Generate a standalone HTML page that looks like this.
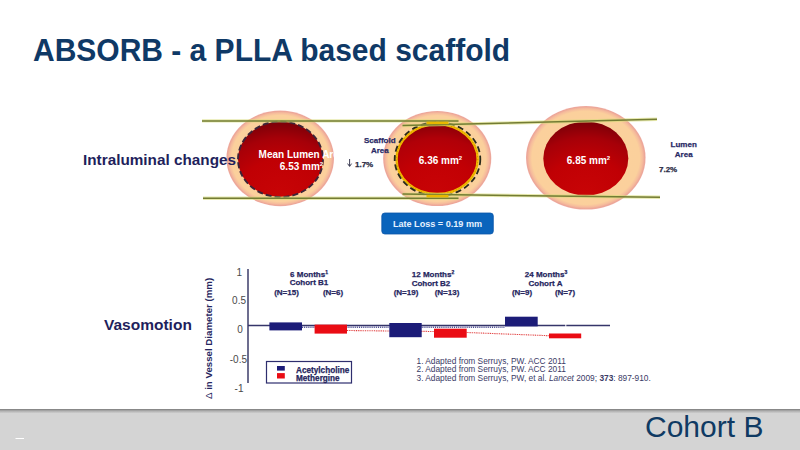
<!DOCTYPE html>
<html><head><meta charset="utf-8">
<style>
html,body{margin:0;padding:0;background:#fff;}
body{width:800px;height:450px;overflow:hidden;position:relative;font-family:"Liberation Sans",sans-serif;}
svg{position:absolute;left:0;top:0;}
</style></head>
<body>
<svg width="800" height="450" viewBox="0 0 800 450" font-family="Liberation Sans, sans-serif">
<defs>
<radialGradient id="rg" cx="0.5" cy="1" r="1">
<stop offset="0" stop-color="#c80406"/>
<stop offset="0.5" stop-color="#c00004"/>
<stop offset="0.78" stop-color="#a60008"/>
<stop offset="1" stop-color="#7a0008"/>
</radialGradient>
<radialGradient id="rg2" cx="0.5" cy="1" r="1">
<stop offset="0" stop-color="#c80406"/>
<stop offset="0.5" stop-color="#c20004"/>
<stop offset="0.8" stop-color="#b00008"/>
<stop offset="1" stop-color="#8a0008"/>
</radialGradient>
<radialGradient id="pk" cx="0.5" cy="0.5" r="0.5">
<stop offset="0" stop-color="#fbd29c"/>
<stop offset="0.9" stop-color="#fbd09c"/>
<stop offset="0.95" stop-color="#f6bc9c"/>
<stop offset="0.985" stop-color="#eca698"/>
<stop offset="1" stop-color="#f0b0a8"/>
</radialGradient>
<linearGradient id="fsh" x1="0" y1="0" x2="0" y2="1">
<stop offset="0" stop-color="#a8a8a8"/>
<stop offset="1" stop-color="#d4d4d4"/>
</linearGradient>
</defs>
<!-- title -->
<text x="33" y="61" font-size="30" font-weight="bold" fill="#0f3966" transform="translate(0,61) scale(1,1.05) translate(0,-61)">ABSORB - a PLLA based scaffold</text>

<!-- circles -->
<ellipse cx="280.2" cy="158.4" rx="53.8" ry="47.8" fill="url(#pk)"/>
<ellipse cx="437.2" cy="158.5" rx="54.1" ry="47.6" fill="url(#pk)"/>
<ellipse cx="585.8" cy="157.8" rx="59.8" ry="51.8" fill="url(#pk)"/>

<!-- left inner -->
<ellipse cx="280.5" cy="159.3" rx="42.5" ry="37.8" fill="url(#rg)" stroke="#3c2438" stroke-width="1.9" stroke-dasharray="6 3"/>
<!-- middle -->
<ellipse cx="437.1" cy="159.2" rx="40.6" ry="34.9" fill="url(#rg2)" stroke="#f0ba00" stroke-width="2.5"/>
<ellipse cx="437.1" cy="159.2" rx="40.6" ry="34.9" fill="none" stroke="#c07000" stroke-width="1" stroke-dasharray="1 2" opacity="0.6"/>
<ellipse cx="437.5" cy="159.2" rx="42.8" ry="37" fill="none" stroke="#2a2a1a" stroke-width="1.8" stroke-dasharray="6 3.5"/>
<!-- right inner -->
<ellipse cx="585.8" cy="158.5" rx="42.5" ry="37.1" fill="url(#rg)"/>

<!-- lines -->
<g stroke="#d8dc78" stroke-width="3.4" fill="none" opacity="0.6">
<line x1="202" y1="120.9" x2="458.5" y2="120.9"/>
<line x1="203" y1="198.2" x2="458.5" y2="198.2"/>
<line x1="402.5" y1="125.6" x2="657" y2="119.2"/>
<line x1="402.5" y1="194.1" x2="660" y2="197.3"/>
</g>
<g stroke="#737c34" stroke-width="1.5" fill="none">
<line x1="202" y1="120.9" x2="458.5" y2="120.9"/>
<line x1="203" y1="198.2" x2="458.5" y2="198.2"/>
<line x1="402.5" y1="125.6" x2="657" y2="119.2"/>
<line x1="402.5" y1="194.1" x2="660" y2="197.3"/>
</g>
<rect x="426.5" y="121.6" width="22" height="2.6" fill="#e8b800"/>
<rect x="426.5" y="194.8" width="22" height="2.6" fill="#e8b800"/>

<!-- circle texts -->
<g fill="#fff" font-weight="bold" font-size="10" text-anchor="middle">
<text x="301.5" y="158.2">Mean Lumen Area</text>
<text x="301.5" y="170.2">6.53 mm<tspan font-size="6" dy="-4">2</tspan></text>
<text x="440.5" y="163.5">6.36 mm<tspan font-size="6" dy="-4">2</tspan></text>
<text x="588.5" y="163.9">6.85 mm<tspan font-size="6" dy="-4">2</tspan></text>
</g>

<text x="83" y="165" font-size="15.3" font-weight="bold" fill="#1f1f5c">Intraluminal changes</text>

<g font-weight="bold" font-size="8" fill="#2a2a66" stroke="#2a2a66" stroke-width="0.25" text-anchor="middle">
<text x="379.8" y="142.8">Scaffold</text>
<text x="379.8" y="152.5">Area</text>
<text x="683.7" y="146.9">Lumen</text>
<text x="683.7" y="156.7">Area</text>
</g>
<g font-weight="bold" font-size="8" fill="#2a2a44" stroke="#2a2a44" stroke-width="0.25">
<text x="355" y="166.5">1.7%</text>
<text x="659" y="172">7.2%</text>
</g>
<path d="M349.6 159 V166.2 M347.6 163.6 L349.6 166.4 L351.6 163.6" stroke="#2a2a44" stroke-width="0.9" fill="none"/>

<!-- late loss -->
<rect x="381.8" y="213" width="111.5" height="21" rx="3" fill="#0a64bc" stroke="#0a56a8" stroke-width="0.8"/>
<text x="437.5" y="227" font-size="9.1" font-weight="bold" fill="#e6f2ff" text-anchor="middle">Late Loss = 0.19 mm</text>

<!-- vasomotion -->
<text x="104" y="330.2" font-size="15.5" font-weight="bold" fill="#1f1f5c">Vasomotion</text>

<!-- chart -->
<text transform="translate(211.5,399) rotate(-90)" font-size="9.7" font-weight="bold" fill="#25255e"><tspan font-weight="normal">Δ</tspan> in Vessel Diameter (mm)</text>
<g font-size="10" fill="#4a4a4a" text-anchor="end">
<text x="242" y="276">1</text>
<text x="246" y="304">0.5</text>
<text x="242.8" y="332.5">0</text>
<text x="247" y="362.5">-0.5</text>
<text x="243.5" y="392">-1</text>
</g>
<line x1="248" y1="269" x2="248" y2="383" stroke="#3c3c6a" stroke-width="1.5"/>
<line x1="248" y1="325.5" x2="610" y2="325.5" stroke="#35356a" stroke-width="1.3"/>
<rect x="565.3" y="324" width="1" height="3" fill="#fff"/>

<!-- dotted lines -->
<line x1="302" y1="327.2" x2="389" y2="327.2" stroke="#4a4a90" stroke-width="1.6" stroke-dasharray="1 0.9"/>
<line x1="421.7" y1="327.2" x2="505" y2="327.2" stroke="#4a4a90" stroke-width="1.6" stroke-dasharray="1 0.9"/>
<line x1="347" y1="330.5" x2="434" y2="331.5" stroke="#e03a3a" stroke-width="1.1" stroke-dasharray="1 0.8"/>
<line x1="466.7" y1="332.5" x2="549" y2="335.7" stroke="#e03a3a" stroke-width="1.1" stroke-dasharray="1 0.8"/>

<g fill="#1c1c78">
<rect x="269.4" y="322.4" width="32.6" height="8"/>
<rect x="389.3" y="323" width="32.4" height="14.2"/>
<rect x="505" y="316.7" width="32.7" height="9.7"/>
</g>
<g fill="#ea0c14">
<rect x="314.6" y="324.6" width="32.4" height="9"/>
<rect x="434" y="328.7" width="32.7" height="9"/>
<rect x="549" y="333.5" width="32.2" height="4.8"/>
</g>

<g font-size="8" font-weight="bold" fill="#25255e" stroke="#25255e" stroke-width="0.25" text-anchor="middle">
<text x="309" y="276.8">6 Months<tspan font-size="5" dy="-3">1</tspan></text>
<text x="309" y="284.9">Cohort B1</text>
<text x="286.5" y="294.5">(N=15)</text>
<text x="333" y="294.5">(N=6)</text>
<text x="433" y="276.8">12 Months<tspan font-size="5" dy="-3">2</tspan></text>
<text x="431" y="285.6">Cohort B2</text>
<text x="406" y="294.5">(N=19)</text>
<text x="447" y="294.5">(N=13)</text>
<text x="546" y="276.8">24 Months<tspan font-size="5" dy="-3">3</tspan></text>
<text x="545.5" y="285.8">Cohort A</text>
<text x="522" y="294.5">(N=9)</text>
<text x="565" y="294.5">(N=7)</text>
</g>

<!-- legend -->
<rect x="266.5" y="361.5" width="85" height="21.5" fill="#fff" stroke="#2e2e6e" stroke-width="1.2"/>
<rect x="277" y="366" width="7.8" height="4.6" fill="#1c1c78"/>
<rect x="277" y="373.1" width="7.8" height="5.4" fill="#ea0c14"/>
<g font-size="8.2" font-weight="bold" fill="#25255e" stroke="#25255e" stroke-width="0.25">
<text x="296" y="372.8">Acetylcholine</text>
<text x="296" y="380.6">Methergine</text>
</g>

<!-- footnotes -->
<g font-size="8.33" fill="#3a3a66">
<text x="416.5" y="363.5">1. Adapted from Serruys, PW. ACC 2011</text>
<text x="416.5" y="372">2. Adapted from Serruys, PW. ACC 2011</text>
<text x="416.5" y="380.7">3. Adapted from Serruys, PW, et al. <tspan font-style="italic">Lancet</tspan> 2009; <tspan font-weight="bold">373</tspan>: 897-910.</text>
</g>

<!-- footer -->
<rect x="0" y="409" width="800" height="41" fill="#d4d4d4"/>
<rect x="0" y="410.5" width="800" height="3" fill="url(#fsh)"/>
<rect x="0" y="409" width="800" height="1.5" fill="#888"/>
<text x="645" y="437" font-size="30" fill="#0f3a63">Cohort B</text>
<rect x="15.5" y="438" width="8.5" height="1" fill="#fff"/>
</svg>
</body></html>
